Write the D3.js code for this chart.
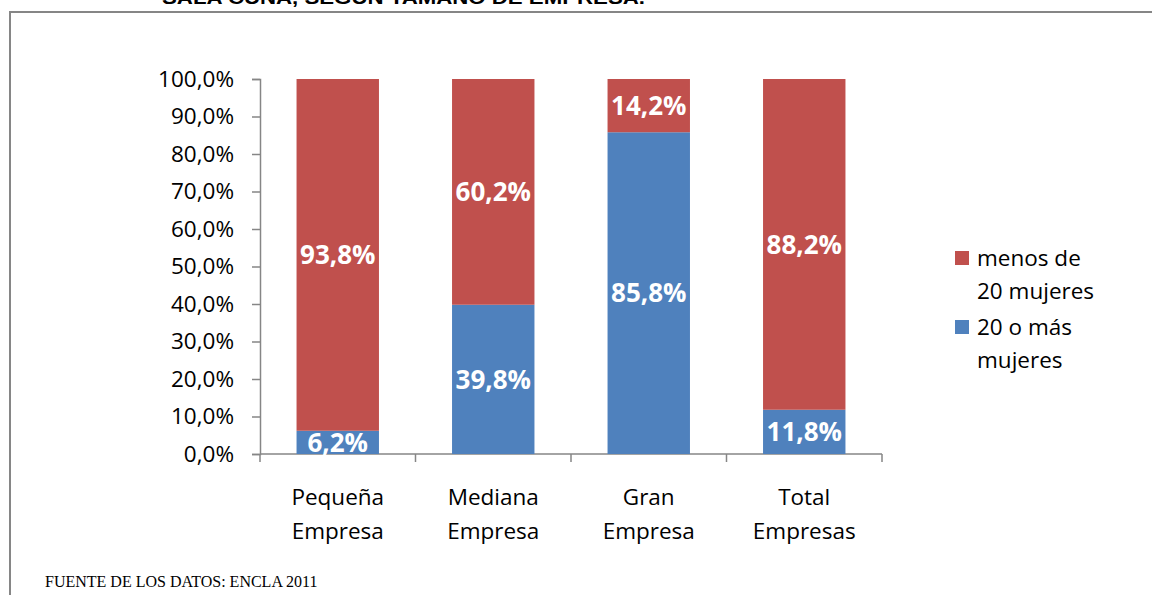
<!DOCTYPE html>
<html>
<head>
<meta charset="utf-8">
<script src="https://cdn.jsdelivr.net/npm/d3@7"></script>
<style>
  html, body { margin: 0; padding: 0; background: #fff; }
  svg { display: block; }
</style>
</head>
<body>
<svg id="chart" width="1152" height="595"></svg>
<script>
// Company size categories (two-line axis labels)
const categories = ["Pequeña Empresa", "Mediana Empresa", "Gran Empresa", "Total Empresas"];
const categoryLines = [["Pequeña", "Empresa"], ["Mediana", "Empresa"], ["Gran", "Empresa"], ["Total", "Empresas"]];

// Share of companies by number of women employed (%)
const masDe20 = [6.2, 39.8, 85.8, 11.8];     // 20 o más mujeres
const menosDe20 = [93.8, 60.2, 14.2, 88.2];  // menos de 20 mujeres

const yTicks = [0, 10, 20, 30, 40, 50, 60, 70, 80, 90, 100];

const colors = { mas: "#4F81BD", menos: "#C0504D" };

const svg = d3.select("#chart");
const fontUI = "'Open Sans', Lato, sans-serif";
const fontSize = "22.5px";

// Chart frame
svg.append("rect")
  .attr("x", 10).attr("y", 12)
  .attr("width", 1150).attr("height", 600)
  .attr("fill", "none")
  .attr("stroke", "#868686")
  .attr("stroke-width", 2);

// Title (runs off the top edge)
svg.append("text")
  .attr("x", 162).attr("y", 4)
  .attr("textLength", 483)
  .attr("lengthAdjust", "spacingAndGlyphs")
  .style("font-family", "Arial, 'Liberation Sans', sans-serif")
  .style("font-weight", "bold")
  .style("font-size", "18px")
  .attr("fill", "#000")
  .text("SALA CUNA, SEGÚN TAMAÑO DE EMPRESA.");

const x = d3.scaleBand()
  .domain(categories)
  .range([260, 882])
  .paddingInner(0.47)
  .paddingOuter(0.235);

const y = d3.scaleLinear().domain([0, 100]).range([454, 79]);

// Y axis
const yAxis = svg.append("g")
  .attr("transform", "translate(260,0)")
  .call(d3.axisLeft(y).tickValues(yTicks).tickSize(8).tickPadding(18)
    .tickFormat(d => d.toFixed(1).replace(".", ",") + "%"));
yAxis.select(".domain").attr("stroke", "#868686").attr("stroke-width", 1.5);
yAxis.selectAll(".tick line").attr("stroke", "#868686").attr("stroke-width", 1.5);
yAxis.selectAll(".tick text")
  .style("font-family", fontUI)
  .style("font-size", fontSize)
  .attr("fill", "#000");

// X axis line with boundary ticks
const xAxisG = svg.append("g").attr("transform", "translate(0,454)");
xAxisG.append("line")
  .attr("x1", 260).attr("x2", 882)
  .attr("stroke", "#868686").attr("stroke-width", 1.5);
const bounds = categories.map(c => x(c) - x.step() * x.paddingInner() / 2);
bounds.push(882);
xAxisG.selectAll("line.bt")
  .data(bounds)
  .join("line")
  .attr("class", "bt")
  .attr("x1", d => d).attr("x2", d => d)
  .attr("y1", 0).attr("y2", 8)
  .attr("stroke", "#868686").attr("stroke-width", 1.5);

// Category labels
categoryLines.forEach((lines, i) => {
  const cx = x(categories[i]) + x.bandwidth() / 2;
  lines.forEach((t, j) => {
    svg.append("text")
      .attr("x", cx).attr("y", 497 + j * 34)
      .attr("dy", "0.36em")
      .attr("text-anchor", "middle")
      .style("font-family", fontUI)
      .style("font-size", fontSize)
      .attr("fill", "#000")
      .text(t);
  });
});

// Stacked bars
const rows = categories.map((c, i) => ({ cat: c, mas: masDe20[i], menos: menosDe20[i] }));

const bars = svg.append("g");
bars.selectAll("rect.mas")
  .data(rows)
  .join("rect")
  .attr("class", "mas")
  .attr("x", d => x(d.cat))
  .attr("width", x.bandwidth())
  .attr("y", d => y(d.mas))
  .attr("height", d => y(0) - y(d.mas))
  .attr("fill", colors.mas);

bars.selectAll("rect.menos")
  .data(rows)
  .join("rect")
  .attr("class", "menos")
  .attr("x", d => x(d.cat))
  .attr("width", x.bandwidth())
  .attr("y", d => y(d.mas + d.menos))
  .attr("height", d => y(d.mas) - y(d.mas + d.menos))
  .attr("fill", colors.menos);

// Value labels
const fmt = v => v.toFixed(1).replace(".", ",") + "%";
const labels = svg.append("g")
  .style("font-family", fontUI)
  .style("font-weight", "bold")
  .style("font-size", "26px")
  .attr("fill", "#fff")
  .attr("text-anchor", "middle");

labels.selectAll("text.mas")
  .data(rows)
  .join("text")
  .attr("class", "mas")
  .attr("x", d => x(d.cat) + x.bandwidth() / 2)
  .attr("y", d => y(d.mas / 2))
  .attr("dy", "0.36em")
  .text(d => fmt(d.mas));

labels.selectAll("text.menos")
  .data(rows)
  .join("text")
  .attr("class", "menos")
  .attr("x", d => x(d.cat) + x.bandwidth() / 2)
  .attr("y", d => y(d.mas + d.menos / 2))
  .attr("dy", "0.36em")
  .text(d => fmt(d.menos));

// Legend
const legendItems = [
  { color: colors.menos, lines: ["menos de", "20 mujeres"] },
  { color: colors.mas, lines: ["20 o más", "mujeres"] }
];
legendItems.forEach((item, i) => {
  const top = 258 + i * 69;
  svg.append("rect")
    .attr("x", 955).attr("y", top - 7)
    .attr("width", 14).attr("height", 14)
    .attr("fill", item.color);
  item.lines.forEach((t, j) => {
    svg.append("text")
      .attr("x", 977).attr("y", top + j * 33)
      .attr("dy", "0.36em")
      .style("font-family", fontUI)
      .style("font-size", fontSize)
      .attr("fill", "#000")
      .text(t);
  });
});

// Source note
svg.append("text")
  .attr("x", 45).attr("y", 587)
  .style("font-family", "'Liberation Serif', 'Times New Roman', serif")
  .style("font-size", "16px")
  .attr("fill", "#000")
  .text("FUENTE DE LOS DATOS: ENCLA 2011");
</script>
</body>
</html>
